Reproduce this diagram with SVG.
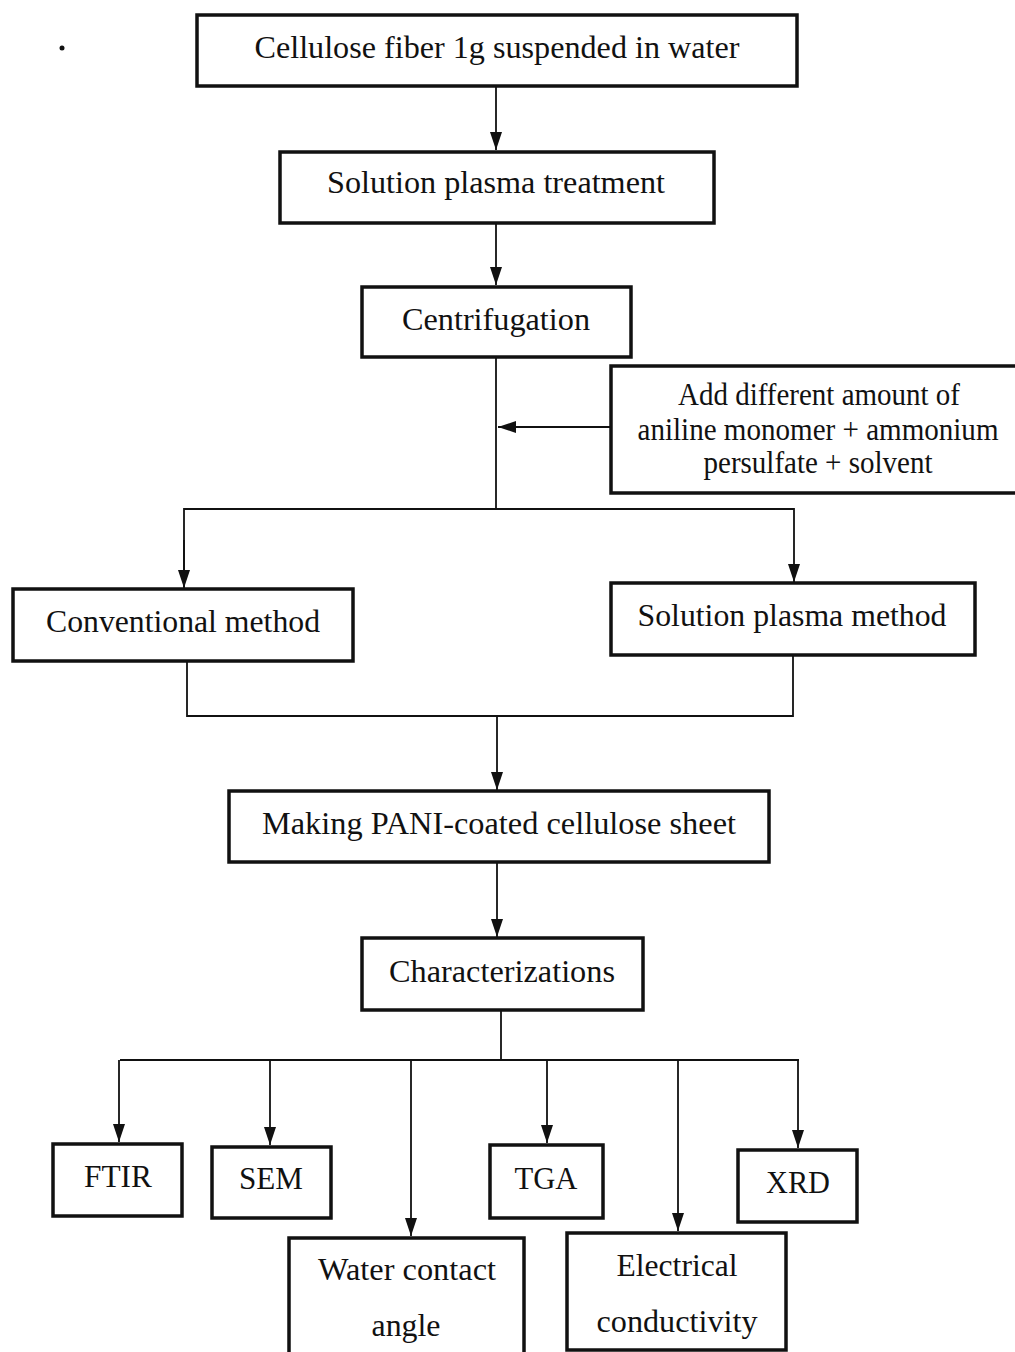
<svg xmlns="http://www.w3.org/2000/svg" width="1015" height="1352" viewBox="0 0 1015 1352">
<style>
.box{fill:#fff;stroke:#111;stroke-width:3.5}
.t{font-family:"Liberation Serif","Times New Roman",serif;font-size:31px;fill:#111;text-anchor:middle}
.c{fill:none;stroke:#111;stroke-width:1.8}
</style>
<defs>
<marker id="av" viewBox="0 0 18 12" refX="18" refY="6" markerWidth="18" markerHeight="12" markerUnits="userSpaceOnUse" orient="auto">
<path d="M0,0 L18,6 L0,12 Z" fill="#111"/>
</marker>
</defs>
<rect width="1015" height="1352" fill="#fff"/>
<circle cx="62" cy="48" r="2.5" fill="#111"/>
<g id="connectors">
<line class="c" x1="496" y1="86" x2="496" y2="150" marker-end="url(#av)"/>
<line class="c" x1="496" y1="223" x2="496" y2="285" marker-end="url(#av)"/>
<line class="c" x1="496" y1="357" x2="496" y2="509"/>
<line class="c" x1="611" y1="427" x2="498" y2="427" marker-end="url(#av)"/>
<polyline class="c" points="184,587 184,509 794,509 794,582" marker-end="url(#av)"/>
<line class="c" x1="184" y1="540" x2="184" y2="588" marker-end="url(#av)"/>
<polyline class="c" points="187,661 187,716 793,716 793,655"/>
<line class="c" x1="497" y1="716" x2="497" y2="790" marker-end="url(#av)"/>
<line class="c" x1="497" y1="862" x2="497" y2="937" marker-end="url(#av)"/>
<line class="c" x1="501" y1="1010" x2="501" y2="1060"/>
<line class="c" x1="120" y1="1060" x2="799" y2="1060"/>
<line class="c" x1="119" y1="1060" x2="119" y2="1142" marker-end="url(#av)"/>
<line class="c" x1="270" y1="1060" x2="270" y2="1145" marker-end="url(#av)"/>
<line class="c" x1="411" y1="1060" x2="411" y2="1236" marker-end="url(#av)"/>
<line class="c" x1="547" y1="1060" x2="547" y2="1143" marker-end="url(#av)"/>
<line class="c" x1="678" y1="1060" x2="678" y2="1231" marker-end="url(#av)"/>
<line class="c" x1="798" y1="1060" x2="798" y2="1148" marker-end="url(#av)"/>
</g>
<g id="n1"><rect class="box" x="197" y="15" width="600" height="71"/><text class="t" x="497" y="58" textLength="485" lengthAdjust="spacingAndGlyphs">Cellulose fiber 1g suspended in water</text></g>
<g id="n2"><rect class="box" x="280" y="152" width="434" height="71"/><text class="t" x="496" y="193" textLength="338" lengthAdjust="spacingAndGlyphs">Solution plasma treatment</text></g>
<g id="n3"><rect class="box" x="362" y="287" width="269" height="70"/><text class="t" x="496" y="330" textLength="188" lengthAdjust="spacingAndGlyphs">Centrifugation</text></g>
<g id="n4"><rect class="box" x="611" y="366" width="410" height="127"/>
<text class="t" x="819" y="405" textLength="282" lengthAdjust="spacingAndGlyphs">Add different amount of</text>
<text class="t" x="818" y="440" textLength="361" lengthAdjust="spacingAndGlyphs">aniline monomer + ammonium</text>
<text class="t" x="818" y="473" textLength="229" lengthAdjust="spacingAndGlyphs">persulfate + solvent</text></g>
<g id="n5"><rect class="box" x="13" y="589" width="340" height="72"/><text class="t" x="183" y="632" textLength="274" lengthAdjust="spacingAndGlyphs">Conventional method</text></g>
<g id="n6"><rect class="box" x="611" y="583" width="364" height="72"/><text class="t" x="792" y="626" textLength="309" lengthAdjust="spacingAndGlyphs">Solution plasma method</text></g>
<g id="n7"><rect class="box" x="229" y="791" width="540" height="71"/><text class="t" x="499" y="834" textLength="474" lengthAdjust="spacingAndGlyphs">Making PANI-coated cellulose sheet</text></g>
<g id="n8"><rect class="box" x="362" y="938" width="281" height="72"/><text class="t" x="502" y="982" textLength="226" lengthAdjust="spacingAndGlyphs">Characterizations</text></g>
<g id="n9"><rect class="box" x="53" y="1144" width="129" height="72"/><text class="t" x="118" y="1187" textLength="68" lengthAdjust="spacingAndGlyphs">FTIR</text></g>
<g id="n10"><rect class="box" x="212" y="1147" width="119" height="71"/><text class="t" x="271" y="1189" textLength="64" lengthAdjust="spacingAndGlyphs">SEM</text></g>
<g id="n11"><rect class="box" x="490" y="1145" width="113" height="73"/><text class="t" x="546" y="1189" textLength="63" lengthAdjust="spacingAndGlyphs">TGA</text></g>
<g id="n12"><rect class="box" x="738" y="1150" width="119" height="72"/><text class="t" x="798" y="1193" textLength="64" lengthAdjust="spacingAndGlyphs">XRD</text></g>
<g id="n13"><rect class="box" x="289" y="1238" width="235" height="120"/>
<text class="t" x="407" y="1280" textLength="178" lengthAdjust="spacingAndGlyphs">Water contact</text>
<text class="t" x="406" y="1336" textLength="69" lengthAdjust="spacingAndGlyphs">angle</text></g>
<g id="n14"><rect class="box" x="567" y="1233" width="219" height="117"/>
<text class="t" x="677" y="1276" textLength="121" lengthAdjust="spacingAndGlyphs">Electrical</text>
<text class="t" x="677" y="1332" textLength="161" lengthAdjust="spacingAndGlyphs">conductivity</text></g>
</svg>
